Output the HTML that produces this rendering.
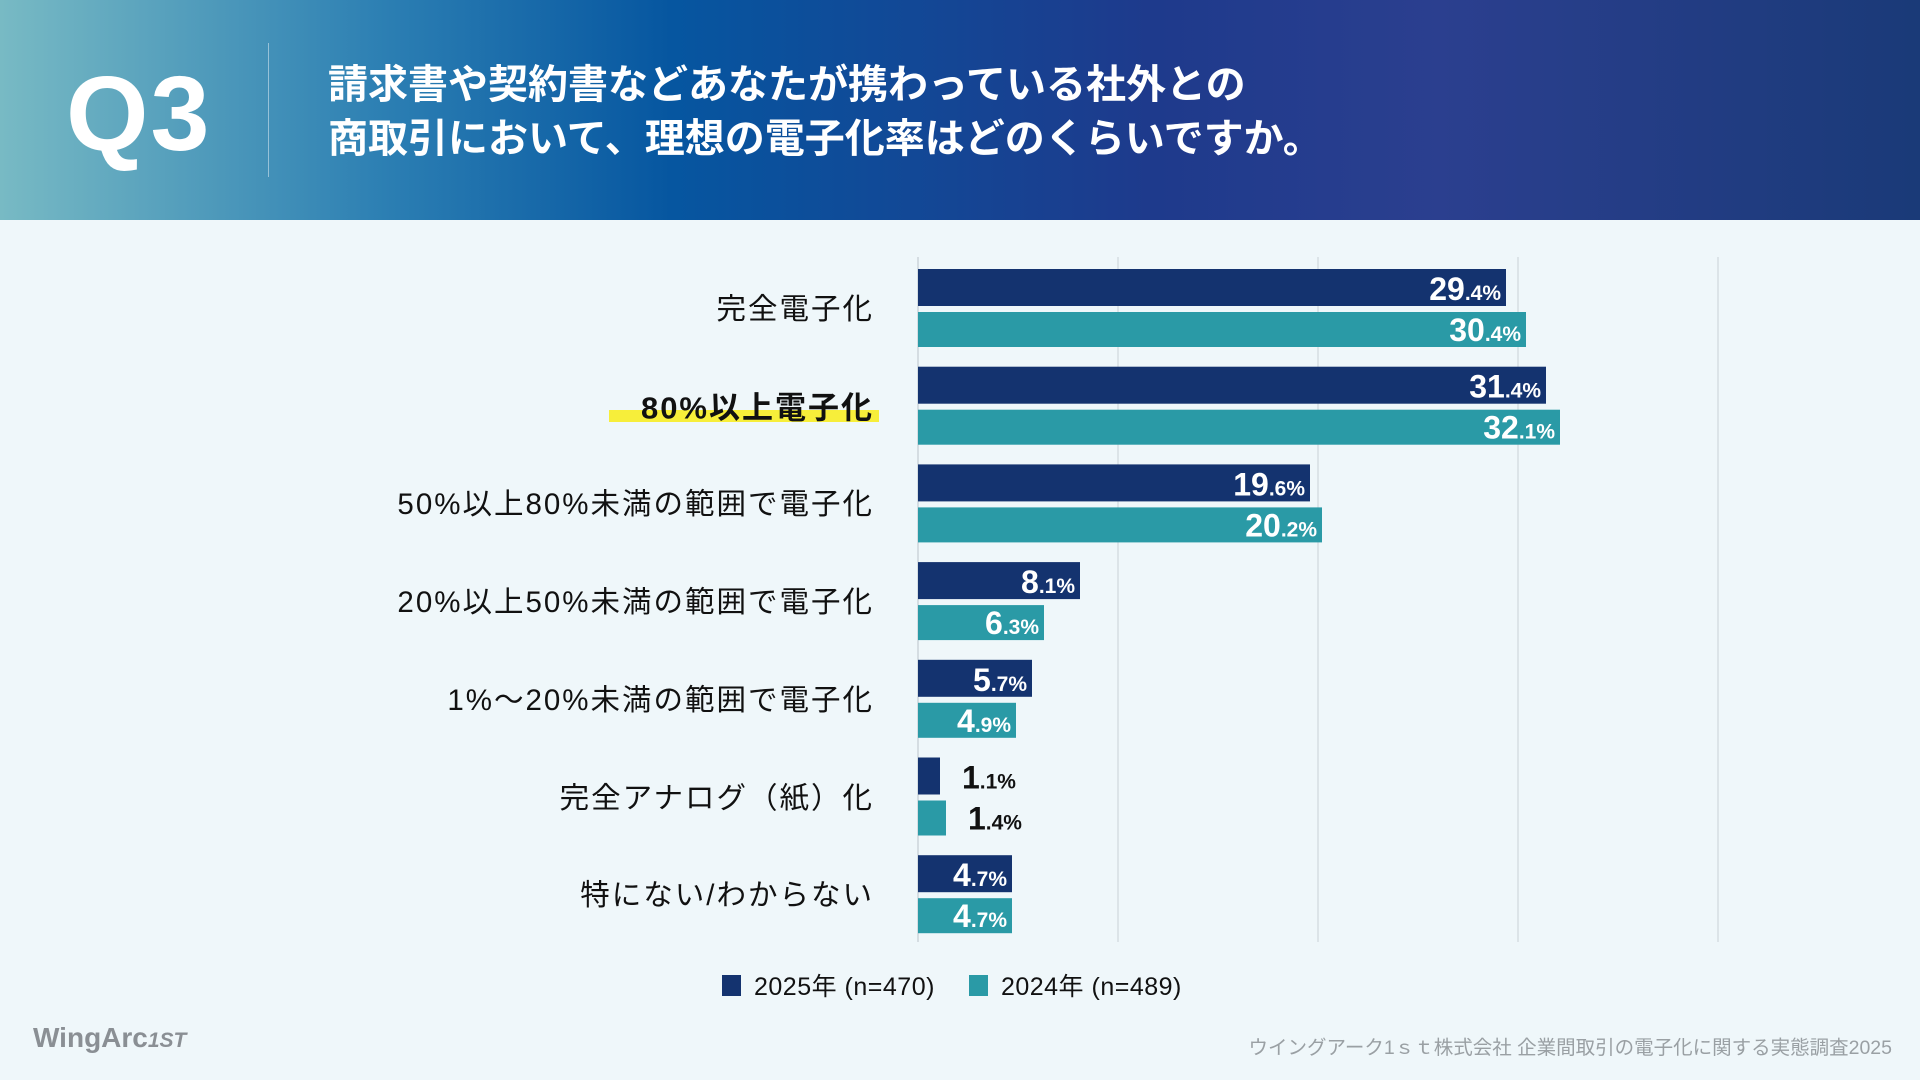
<!DOCTYPE html>
<html><head><meta charset="utf-8">
<style>
*{margin:0;padding:0;box-sizing:border-box}
body{width:1920px;height:1080px;background:#eff7fa;font-family:"Liberation Sans","Noto Sans CJK JP",sans-serif;position:relative;overflow:hidden}
#header{position:absolute;left:0;top:0;width:1920px;height:220px;background:linear-gradient(90deg,#78bac4 0%,#2c7fb3 20%,#0656a0 35%,#1e3a8c 60%,#2b3f8f 75%,#1a3a78 100%)}
#q3{position:absolute;left:66px;top:54px;font-size:106px;font-weight:bold;color:#fff;letter-spacing:2px;font-family:"Liberation Sans",sans-serif}
#vline{position:absolute;left:268px;top:43px;width:1px;height:134px;background:rgba(255,255,255,0.45)}
#title{position:absolute;left:328px;top:58px;color:#fff;font-size:40px;font-weight:bold;line-height:54px}
.cat{position:absolute;right:1046px;font-size:29.5px;color:#111;letter-spacing:2px;white-space:nowrap;transform:translateY(-50%)}
.cat.hl{font-weight:bold;font-size:31px}
#hlbar{position:absolute;left:609px;top:410px;width:270px;height:12px;background:#f7ee3a}
#legend{position:absolute;top:967px;left:722px;font-size:25px;letter-spacing:0.5px;color:#111;display:flex;align-items:center}
.sq{display:inline-block;width:19px;height:21px;margin-right:13px}
#logo{position:absolute;left:33px;top:1022px;font-size:28px;font-weight:bold;color:#8a8f94}
#source{position:absolute;right:28px;top:1031px;font-size:19.5px;color:#9aa0a4}
</style></head>
<body>
<div id="header">
<div id="q3">Q3</div>
<div id="vline"></div>
<div id="title">請求書や契約書などあなたが携わっている社外との<br>商取引において、理想の電子化率はどのくらいですか。</div>
</div>
<div id="hlbar"></div>
<svg id="chart" width="1920" height="1080" style="position:absolute;left:0;top:0"></svg>
<div id="labels"></div>
<div id="legend">
<span class="sq" style="background:#14336f"></span><span>2025年 (n=470)</span>
<span class="sq" style="background:#2a9aa6;margin-left:34px"></span><span>2024年 (n=489)</span>
</div>
<div id="logo">WingArc<span style="font-size:21px;font-style:italic">1ST</span></div>
<div id="source">ウイングアーク1ｓｔ株式会社 企業間取引の電子化に関する実態調査2025</div>
<script>
const categories=["完全電子化","80%以上電子化","50%以上80%未満の範囲で電子化","20%以上50%未満の範囲で電子化","1%～20%未満の範囲で電子化","完全アナログ（紙）化","特にない/わからない"];
const values2025=[29.4,31.4,19.6,8.1,5.7,1.1,4.7];
const values2024=[30.4,32.1,20.2,6.3,4.9,1.4,4.7];
const gridTicks=[0,10,20,30,40];
const highlightIndex=1;
const NS="http://www.w3.org/2000/svg";
const svg=document.getElementById('chart');
const x0=918,pxPer=20,top0=269,pitch=97.7;
const xs=v=>x0+v*pxPer;
const ys=i=>top0+i*pitch;
gridTicks.forEach(t=>{
 const l=document.createElementNS(NS,'line');
 l.setAttribute('x1',xs(t));l.setAttribute('x2',xs(t));l.setAttribute('y1',257);l.setAttribute('y2',942);
 l.setAttribute('stroke','#d5dde2');l.setAttribute('stroke-width',t===0?2:1.5);
 
 
 svg.appendChild(l);
});
function valLabel(v,x,y,inside){
 const t=document.createElementNS(NS,'text');
 const s=v.toFixed(1).split('.');
 t.setAttribute('y',y);t.setAttribute('font-weight','bold');
 t.setAttribute('font-family','"Liberation Sans",sans-serif');
 t.setAttribute('fill',inside?'#fff':'#111');
 if(inside){t.setAttribute('x',x-5);t.setAttribute('text-anchor','end');}
 else{t.setAttribute('x',x+22);}
 const a=document.createElementNS(NS,'tspan');a.setAttribute('font-size','32');a.textContent=s[0];
 const b=document.createElementNS(NS,'tspan');b.setAttribute('font-size','21');b.textContent='.'+s[1]+'%';
 t.appendChild(a);t.appendChild(b);
 
 
 svg.appendChild(t);
}
categories.forEach((c,i)=>{
 const y=ys(i);
 [[values2025[i],y,37,'#14336f'],[values2024[i],y+43,35,'#2a9aa6']].forEach(([v,by,h,col],k)=>{
  const r=document.createElementNS(NS,'rect');
  r.setAttribute('x',x0);r.setAttribute('y',by);r.setAttribute('width',xs(v)-x0);r.setAttribute('height',h);r.setAttribute('fill',col);
  
  
  svg.appendChild(r);
  valLabel(v,xs(v),by+h-6,v>3);
 });
 const d=document.createElement('div');
 d.className='cat'+(i===highlightIndex?' hl':'');
 d.style.top=(y+38)+'px';
 d.textContent=c;
 
 
 document.getElementById('labels').appendChild(d);
});
</script>
</body></html>
